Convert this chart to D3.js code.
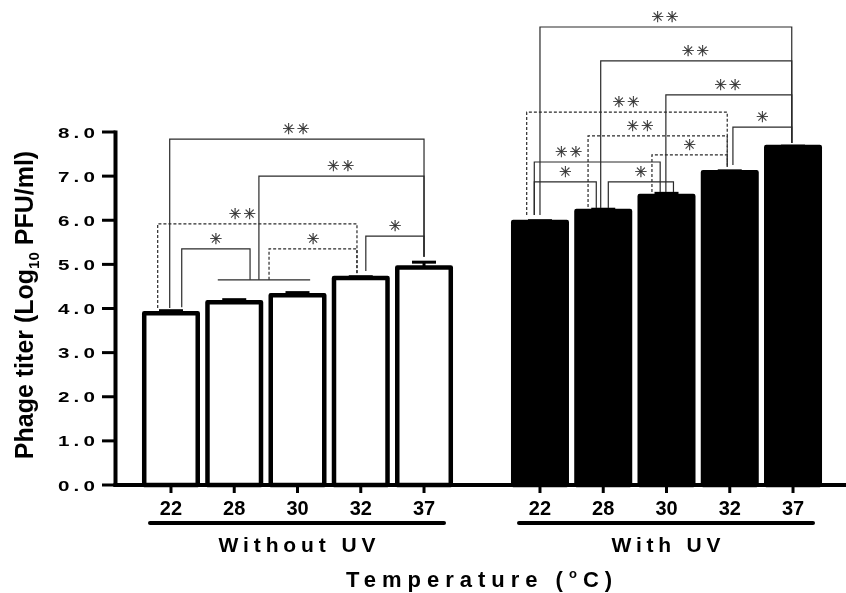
<!DOCTYPE html>
<html>
<head>
<meta charset="utf-8">
<script src="https://cdn.jsdelivr.net/npm/d3@7"></script>
<style>
  html, body { margin: 0; padding: 0; background: #fff; }
  svg { display: block; will-change: transform; }
  text { font-family: "Liberation Sans", Arial, sans-serif; }
  .star { font-family: "DejaVu Sans"; font-variant-emoji: text; }
</style>
</head>
<body>
<svg id="chart" width="846" height="593"></svg>
<script>
// ---------- data ----------
const groups = ["Without UV", "With UV"];
const temps = ["22", "28", "30", "32", "37"];
const withoutUV = [3.89, 4.14, 4.30, 4.69, 4.93];
const withoutUVErr = [0.06, 0.06, 0.06, 0.03, 0.12];
const withUV = [5.96, 6.21, 6.55, 7.09, 7.66];
const withUVErr = [0.03, 0.04, 0.06, 0.03, 0.02];
const yTicks = [0, 1, 2, 3, 4, 5, 6, 7, 8];
const yTitle = "Phage titer (Log";
const xTitle = "Temperature (";

// significance brackets: ends in category-index units, levels in data units
const bracketsWithout = [
  { from: -0.02, to: 4.00, level: 7.84, fromBase: 4.01, toBase: 5.17, dashed: false, label: "**", at: 0.5 },
  { from: 1.39, to: 4.00, level: 7.00, fromBase: 4.65, toBase: 5.17, dashed: false, label: "**", at: 0.5 },
  { from: -0.21, to: 2.94, level: 5.92, fromBase: 4.01, toBase: 4.80, dashed: true, label: "**", at: 0.43 },
  { from: 0.17, to: 1.25, level: 5.35, fromBase: 4.03, toBase: 4.65, dashed: false, label: "*", at: 0.5 },
  { from: 1.55, to: 2.94, level: 5.35, fromBase: 4.65, toBase: 4.80, dashed: true, label: "*", at: 0.5 },
  { from: 3.08, to: 4.00, level: 5.64, fromBase: 4.85, toBase: 5.17, dashed: false, label: "*", at: 0.5 }
];
const groupLinesWithout = [ { from: 0.74, to: 2.20, level: 4.65 } ];
const bracketsWith = [
  { from: 0.00, to: 3.98, level: 10.38, fromBase: 6.12, toBase: 7.75, dashed: false, label: "**", at: 0.5 },
  { from: 0.96, to: 3.98, level: 9.61, fromBase: 6.28, toBase: 7.75, dashed: false, label: "**", at: 0.5 },
  { from: 1.99, to: 3.98, level: 8.84, fromBase: 6.64, toBase: 7.75, dashed: false, label: "**", at: 0.5 },
  { from: 3.05, to: 3.98, level: 8.11, fromBase: 7.25, toBase: 7.75, dashed: false, label: "*", at: 0.5 },
  { from: -0.21, to: 2.96, level: 8.45, fromBase: 6.12, toBase: 7.21, dashed: true, label: "**", at: 0.5 },
  { from: 0.76, to: 2.96, level: 7.91, fromBase: 6.30, toBase: 7.21, dashed: true, label: "**", at: 0.38 },
  { from: 1.77, to: 2.96, level: 7.48, fromBase: 6.64, toBase: 7.21, dashed: true, label: "*", at: 0.5 },
  { from: -0.09, to: 1.90, level: 7.32, fromBase: 6.12, toBase: 6.64, dashed: false, label: "**", at: 0.28 },
  { from: -0.09, to: 0.89, level: 6.87, fromBase: 6.12, toBase: 6.28, dashed: false, label: "*", at: 0.5 },
  { from: 1.08, to: 2.11, level: 6.87, fromBase: 6.28, toBase: 6.64, dashed: false, label: "*", at: 0.5 }
];

const series = [
  { group: groups[0], values: withoutUV, errs: withoutUVErr, fill: "#fff", brackets: bracketsWithout, lines: groupLinesWithout },
  { group: groups[1], values: withUV, errs: withUVErr, fill: "#000", brackets: bracketsWith, lines: [] }
];

// ---------- layout ----------
const svg = d3.select("#chart");
const axisX = 115.5;
const y = d3.scaleLinear().domain([0, 8]).range([485, 132]);
const outer = d3.scaleBand().domain(groups).range([113, 851]).padding(0);
const inner = d3.scaleBand().domain(temps).range([0, outer.bandwidth()])
  .paddingInner(0.083).paddingOuter(0.458);
const bw = inner.bandwidth();
const xu = (g, u) => outer(g) + inner(temps[0]) + bw / 2 + u * inner.step();
const barStroke = 4.5;

// ---------- bars ----------
series.forEach(s => {
  const g = svg.append("g");
  g.selectAll("rect").data(s.values).join("rect")
    .attr("x", (d, i) => outer(s.group) + inner(temps[i]) + barStroke / 2)
    .attr("width", bw - barStroke)
    .attr("y", d => y(d))
    .attr("height", d => y(0) - y(d))
    .attr("fill", s.fill)
    .attr("stroke", "#000")
    .attr("stroke-width", barStroke)
    .attr("stroke-linejoin", "round");
  s.values.forEach((v, i) => {
    const cx = outer(s.group) + inner(temps[i]) + bw / 2;
    g.append("line").attr("x1", cx).attr("x2", cx)
      .attr("y1", y(v)).attr("y2", y(v + s.errs[i]))
      .attr("stroke", "#000").attr("stroke-width", 3);
    g.append("line").attr("x1", cx - 12).attr("x2", cx + 12)
      .attr("y1", y(v + s.errs[i])).attr("y2", y(v + s.errs[i]))
      .attr("stroke", "#000").attr("stroke-width", 3);
  });
});

// ---------- brackets ----------
const starLayer = svg.append("g").attr("opacity", 0.999);
series.forEach(s => {
  const g = svg.append("g").attr("fill", "none");
  s.brackets.forEach(b => {
    const x1 = xu(s.group, b.from), x2 = xu(s.group, b.to), yl = y(b.level);
    g.append("path")
      .attr("d", `M${x1},${y(b.fromBase)}V${yl}H${x2}V${y(b.toBase)}`)
      .attr("stroke", "#2a2a2a").attr("stroke-width", 1.2)
      .attr("stroke-dasharray", b.dashed ? "3,2" : null);
    starLayer.append("text")
      .attr("class", "star")
      .attr("x", x1 + (x2 - x1) * b.at)
      .attr("y", yl - 5)
      .attr("text-anchor", "middle")
      .attr("font-size", 15)
      .attr("letter-spacing", b.label.length > 1 ? 2 : 0)
      .attr("fill", "#333")
      .attr("stroke", "#333").attr("stroke-width", 0.3)
      .text(b.label.replace(/\*/g, "\u2733\uFE0E"));
  });
  s.lines.forEach(l => {
    g.append("line")
      .attr("x1", xu(s.group, l.from)).attr("x2", xu(s.group, l.to))
      .attr("y1", y(l.level)).attr("y2", y(l.level))
      .attr("stroke", "#2a2a2a").attr("stroke-width", 1.2);
  });
});

// ---------- axes ----------
svg.append("line").attr("x1", axisX).attr("x2", axisX)
  .attr("y1", y(8) - 1.5).attr("y2", y(0) + 2)
  .attr("stroke", "#000").attr("stroke-width", 4);
const yt = svg.append("g");
yt.selectAll("line").data(yTicks).join("line")
  .attr("x1", 102).attr("x2", axisX).attr("y1", d => y(d)).attr("y2", d => y(d))
  .attr("stroke", "#000").attr("stroke-width", 3);
yt.selectAll("text").data(yTicks).join("text")
  .attr("x", 99).attr("y", d => y(d) + 5.5)
  .attr("text-anchor", "end")
  .attr("font-size", 15).attr("font-weight", "bold")
  .attr("letter-spacing", 3)
  .attr("textLength", 41).attr("lengthAdjust", "spacingAndGlyphs")
  .text(d => d3.format(".1f")(d));

svg.append("line").attr("x1", axisX - 2).attr("x2", 846)
  .attr("y1", y(0)).attr("y2", y(0))
  .attr("stroke", "#000").attr("stroke-width", 4);

series.forEach(s => {
  const g = svg.append("g");
  temps.forEach((t, i) => {
    const cx = outer(s.group) + inner(t) + bw / 2;
    g.append("line").attr("x1", cx).attr("x2", cx)
      .attr("y1", y(0)).attr("y2", y(0) + 8)
      .attr("stroke", "#000").attr("stroke-width", 3);
    g.append("text").attr("x", cx).attr("y", 515)
      .attr("text-anchor", "middle")
      .attr("font-size", 20).attr("font-weight", "bold")
      .text(t);
  });
  const xa = outer(s.group) + inner(temps[0]) + 8;
  const xb = outer(s.group) + inner(temps[temps.length - 1]) + bw - 9;
  g.append("line").attr("x1", xa).attr("x2", xb).attr("y1", 523).attr("y2", 523)
    .attr("stroke", "#000").attr("stroke-width", 4).attr("stroke-linecap", "round");
  g.append("text").attr("x", (xa + xb) / 2).attr("y", 551.5)
    .attr("text-anchor", "middle")
    .attr("font-size", 21).attr("font-weight", "bold")
    .attr("textLength", s.group === groups[0] ? 157 : 109)
    .attr("lengthAdjust", "spacing")
    .text(s.group);
});

const xt = svg.append("text")
  .attr("x", (outer.range()[0] + outer.range()[1]) / 2).attr("y", 587)
  .attr("text-anchor", "middle")
  .attr("font-size", 22).attr("font-weight", "bold")
  .attr("letter-spacing", 6);
xt.append("tspan").text(xTitle);
xt.append("tspan").attr("font-size", 13).attr("dy", -9).text("o");
xt.append("tspan").attr("dy", 9).text("C)");

const ytt = svg.append("text")
  .attr("transform", `translate(33,305) rotate(-90)`)
  .attr("text-anchor", "middle")
  .attr("font-size", 25).attr("font-weight", "bold");
ytt.append("tspan").text(yTitle);
ytt.append("tspan").attr("font-size", 15).attr("dy", 6).text("10");
ytt.append("tspan").attr("dy", -6).text(" PFU/ml)");
</script>
</body>
</html>
